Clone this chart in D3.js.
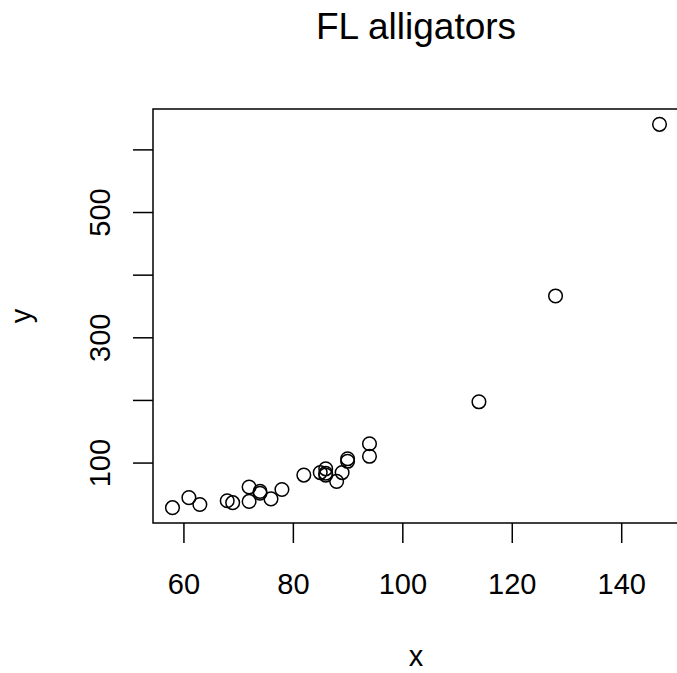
<!DOCTYPE html>
<html>
<head>
<meta charset="utf-8">
<script src="https://cdn.jsdelivr.net/npm/d3@7"></script>
<style>
  body { margin: 0; background: #fff; }
  svg { display: block; font-family: 'Liberation Sans', Arial, sans-serif; }
</style>
</head>
<body>
<div id="chart"></div>
<script>
// Florida alligators: length (x) and weight (y)
const lengths = [94, 74, 147, 58, 86, 94, 63, 86, 69, 72, 128, 85, 82, 86, 88, 72, 74, 61, 90, 89, 68, 76, 114, 90, 78];
const weights = [130, 51, 640, 28, 80, 110, 33, 90, 36, 38, 366, 84, 80, 83, 70, 61, 54, 44, 106, 84, 39, 42, 197, 102, 57];
const xTicks = [60, 80, 100, 120, 140];
const yTicks = [100, 200, 300, 400, 500, 600];
const yTickLabels = [100, 300, 500];

const width = 677;
const height = 673;
const margin = { top: 109, right: -2, bottom: 150, left: 153 };

const svg = d3.select('#chart')
  .append('svg')
  .attr('width', width)
  .attr('height', height);

const points = lengths.map((d, i) => ({ x: d, y: weights[i] }));

// R style 4% padding on each side of the data range
function padded(ext) {
  const p = (ext[1] - ext[0]) * 0.04;
  return [ext[0] - p, ext[1] + p];
}

const x = d3.scaleLinear()
  .domain(padded(d3.extent(lengths)))
  .range([margin.left, width - margin.right]);

const y = d3.scaleLinear()
  .domain(padded(d3.extent(weights)))
  .range([height - margin.bottom, margin.top]);

const bottom = height - margin.bottom;

// x axis
const xAxis = svg.append('g')
  .attr('transform', `translate(0, ${bottom})`)
  .call(d3.axisBottom(x).tickValues(xTicks).tickSize(20).tickFormat(d3.format('d')));
xAxis.select('.domain').remove();
xAxis.selectAll('line').attr('stroke', '#000').attr('stroke-width', 1.5);
xAxis.selectAll('text')
  .attr('y', 71)
  .attr('dy', 0)
  .attr('fill', '#000')
  .style('font-size', '29px');

// y axis
const yAxis = svg.append('g')
  .attr('transform', `translate(${margin.left}, 0)`)
  .call(d3.axisLeft(y).tickValues(yTicks).tickSize(20)
    .tickFormat((d) => (yTickLabels.includes(d) ? d : '')));
yAxis.select('.domain').remove();
yAxis.selectAll('line').attr('stroke', '#000').attr('stroke-width', 1.5);
yAxis.selectAll('text')
  .attr('x', 0)
  .attr('dy', 0)
  .attr('text-anchor', 'middle')
  .attr('transform', 'translate(-43, 0) rotate(-90)')
  .attr('fill', '#000')
  .style('font-size', '29px');

// plot box
svg.append('rect')
  .attr('x', x.range()[0])
  .attr('y', y.range()[1])
  .attr('width', x.range()[1] - x.range()[0])
  .attr('height', y.range()[0] - y.range()[1])
  .attr('fill', 'none')
  .attr('stroke', '#000')
  .attr('stroke-width', 1.5);

// points
svg.append('g')
  .selectAll('circle')
  .data(points)
  .enter()
  .append('circle')
  .attr('cx', (d) => x(d.x))
  .attr('cy', (d) => y(d.y))
  .attr('r', 6.8)
  .attr('fill', 'none')
  .attr('stroke', '#000')
  .attr('stroke-width', 1.5);

// title and axis labels
svg.append('text')
  .attr('x', (x.range()[0] + x.range()[1]) / 2)
  .attr('y', 39)
  .attr('text-anchor', 'middle')
  .style('font-size', '37px')
  .text('FL alligators');

svg.append('text')
  .attr('x', (x.range()[0] + x.range()[1]) / 2)
  .attr('y', 666)
  .attr('text-anchor', 'middle')
  .style('font-size', '29px')
  .text('x');

svg.append('text')
  .attr('transform', `translate(31, ${(y.range()[0] + y.range()[1]) / 2}) rotate(-90)`)
  .attr('text-anchor', 'middle')
  .style('font-size', '29px')
  .text('y');
</script>
</body>
</html>
